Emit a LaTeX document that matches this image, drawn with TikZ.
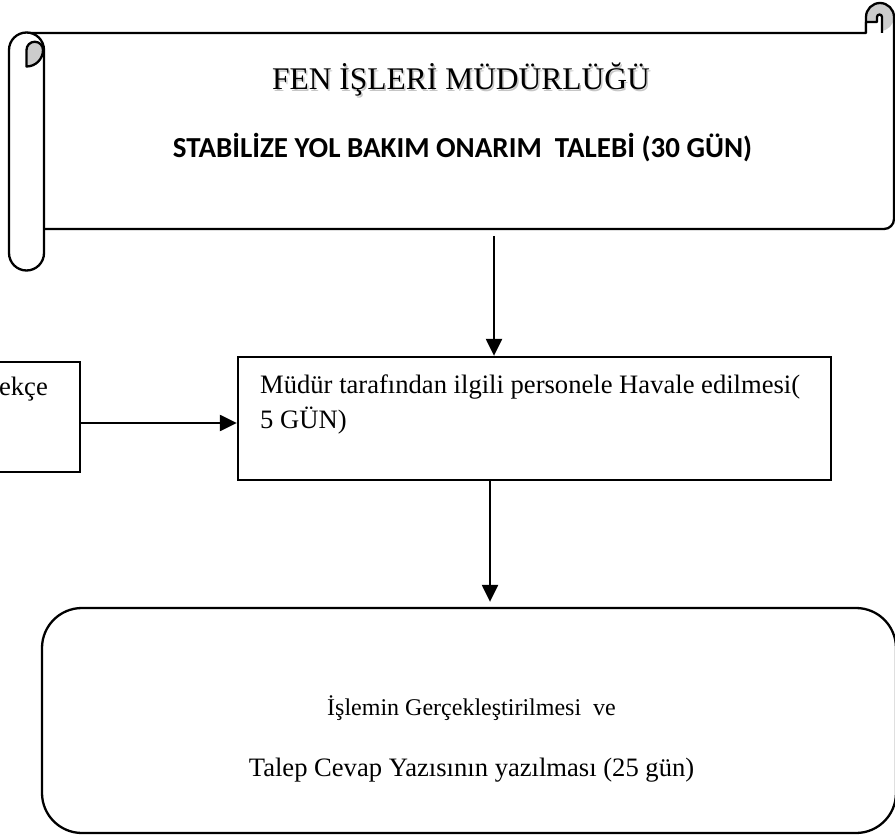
\documentclass[tikz,border=0pt]{standalone}
\usepackage{fontspec}
\setmainfont{Liberation Serif}
\newfontfamily\calib{Carlito}
\usetikzlibrary{arrows.meta}
\tikzset{
  ln/.style={line width=2.3pt, line join=round},
  boxst/.style={draw, line width=2.3pt, inner sep=0pt},
  arr/.style={line width=2.3pt, -{Triangle[length=17pt,width=16pt]}},
  txt/.style={inner sep=0pt, font=\fontsize{26.6}{35}\selectfont}
}
\begin{document}
\begin{tikzpicture}[x=1pt,y=-1pt]
\useasboundingbox (0,0) rectangle (895,837);
\clip (0,0) rectangle (895,837);
% ---------- scroll ----------
\fill[gray!40] (880,17) circle (14);
\draw[ln] (26.5,33) -- (866,33) -- (866,17) arc[start angle=180,end angle=360,radius=14]
   -- (894,219) arc[start angle=0,end angle=90,radius=10] -- (44,229);
\draw[ln, fill=white] (866,33) -- (866,22) -- (877,22) -- (877,17)
   arc[start angle=180,end angle=360,radius=2.5] -- (882,33);
\draw[ln, fill=white] (9,50) arc[start angle=180,end angle=360,radius=17.5]
   -- (44,253) arc[start angle=0,end angle=180,radius=17.5] -- cycle;
\draw[ln, fill=gray!40] (26.5,66.5) -- (26.5,50) arc[start angle=180,end angle=360,radius=8.25]
   arc[start angle=0,end angle=90,radius=16.5] -- cycle;
\node[anchor=base, inner sep=0pt, text=gray!45, font=\fontsize{31.5}{36}\selectfont] at (462.5,91.5) {FEN İŞLERİ MÜDÜRLÜĞÜ};
\node[anchor=base, inner sep=0pt, font=\fontsize{31.5}{36}\selectfont] (title) at (461,90) {FEN İŞLERİ MÜDÜRLÜĞÜ};
\node[anchor=base, inner sep=0pt, font=\calib\bfseries\fontsize{29}{34}\selectfont] (sub) at (462.5,158) {STABİLİZE YOL BAKIM ONARIM\ \ TALEBİ (30 GÜN)};
\coordinate (s1) at (494,236);
% ---------- middle box ----------
\node[boxst, minimum width=593pt, minimum height=123pt] (mid) at (534.5,418.5) {};
\node[txt, anchor=base west] (m1) at (260,393) {Müdür tarafından ilgili personele Havale edilmesi(};
\node[txt, anchor=base west] (m2) at (260,428) {5 GÜN)};
% ---------- left box ----------
\node[boxst, minimum width=95pt, minimum height=110pt] (lbox) at (32.5,417) {};
\node[txt, anchor=base east] (l1) at (48,395) {ekçe};
% ---------- bottom box ----------
\node[boxst, rounded corners=40pt, minimum width=854pt, minimum height=225pt] (bot) at (469,720.5) {};
\node[inner sep=0pt, anchor=base, font=\fontsize{24}{28}\selectfont] (b1) at (471.5,715) {İşlemin Gerçekleştirilmesi\ \ ve};
\node[txt, anchor=base] (b2) at (471.5,776) {Talep Cevap Yazısının yazılması (25 gün)};
% ---------- connectors ----------
\draw[arr] (s1) -- (s1 |- mid.north);
\coordinate (m3) at (490,481);
\draw[arr] (m3) -- ([yshift=5pt]m3 |- bot.north);
\draw[arr] (lbox.east |- 0,423) -- (mid.west |- 0,423);
\end{tikzpicture}
\end{document}
